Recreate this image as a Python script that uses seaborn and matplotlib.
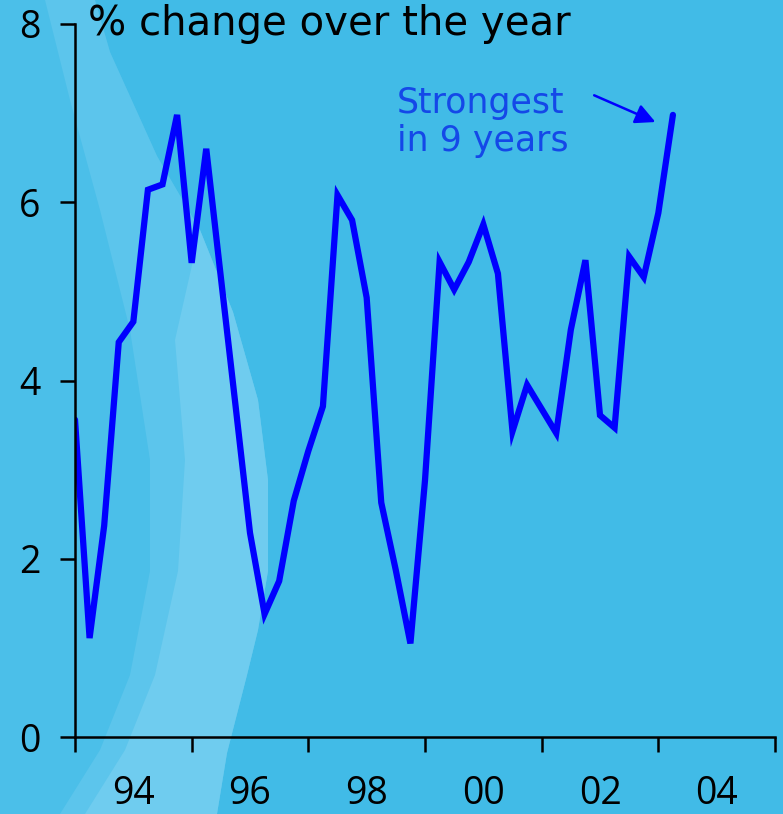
import numpy as np
import pandas as pd
import seaborn as sns
import matplotlib.pyplot as plt
from matplotlib.patches import Polygon

# quarterly % change over the year, 1993 Q1 to 2003 Q2
start_year = 1993
growth = [3.56, 1.11, 2.37, 4.43, 4.66, 6.14, 6.20, 6.98,
          5.32, 6.60, 5.16, 3.73, 2.29, 1.38, 1.75, 2.65,
          3.21, 3.71, 6.08, 5.80, 4.93, 2.63, 1.87, 1.05,
          2.88, 5.33, 5.02, 5.33, 5.75, 5.20, 3.43, 3.95,
          3.68, 3.41, 4.57, 5.35, 3.61, 3.47, 5.39, 5.16,
          5.88, 6.98]
year_labels = ['94', '96', '98', '00', '02', '04']
label_years = [1994, 1996, 1998, 2000, 2002, 2004]
tick_years = [1993, 1995, 1997, 1999, 2001, 2003, 2005]
y_ticks = [0, 2, 4, 6, 8]

df = pd.DataFrame({'date': start_year + np.arange(len(growth)) * 0.25,
                   'growth': growth})

bg = '#41bbe7'
sns.set_theme(style='ticks', rc={'axes.facecolor': 'none', 'figure.facecolor': bg})
plt.rcParams['font.family'] = ['Open Sans', 'DejaVu Sans']

W, H = 783, 814
fig = plt.figure(figsize=(W / 100, H / 100), dpi=100)

# lighter swoosh in the background (pixel coords, y down)
def px(pts):
    return [(x / W, 1 - y / H) for x, y in pts]

edge = [(95, 0), (110, 52), (157, 156), (200, 230), (233, 312), (258, 400),
        (268, 480), (268, 571), (258, 630), (247, 675), (227, 753), (217, 814)]
outer = px([(0, 0)] + edge + [(0, 814)])
band = px(edge + [(60, 814), (100, 750), (130, 675), (150, 571), (150, 460),
                  (130, 330), (100, 210), (70, 100), (45, 0)])
bright = px(edge[3:] + [(85, 814), (125, 750), (155, 675), (178, 571), (185, 460),
                        (175, 340)])
fig.patches.append(Polygon(outer, closed=True, transform=fig.transFigure,
                           facecolor='#4bbfe9', edgecolor='none', zorder=-3))
fig.patches.append(Polygon(band, closed=True, transform=fig.transFigure,
                           facecolor='#5cc5ec', edgecolor='none', zorder=-2))
fig.patches.append(Polygon(bright, closed=True, transform=fig.transFigure,
                           facecolor='#6fccef', edgecolor='none', zorder=-1))

ax = fig.add_axes([75 / W, 77 / H, 700 / W, 713 / H])
ax.patch.set_alpha(0)

sns.lineplot(data=df, x='date', y='growth', ax=ax, color='#0000ff',
             linewidth=4.5, solid_joinstyle='miter')

ax.set_xlim(1993, 2005)
ax.set_ylim(0, 8)
ax.set_xlabel('')
ax.set_ylabel('')
sns.despine(ax=ax)
for s in ['left', 'bottom']:
    ax.spines[s].set_color('black')
    ax.spines[s].set_linewidth(1.8)

ax.set_yticks(y_ticks)
ax.set_yticklabels([str(v) for v in y_ticks])
ax.tick_params(axis='y', length=11, width=1.8, pad=14, labelsize=27, colors='black')

ax.set_xticks(tick_years)
ax.set_xticklabels([])
ax.set_xticks(label_years, minor=True)
ax.set_xticklabels(year_labels, minor=True)
ax.tick_params(axis='x', which='major', length=11, width=1.8, colors='black')
ax.tick_params(axis='x', which='minor', length=0, pad=27, labelsize=27, colors='black')

fig.text(88 / W, 1 - 24 / H, '% change over the year', fontsize=29,
         family='DejaVu Sans', color='black', va='center', ha='left')

ax.text(1998.52, 6.9, 'Strongest\nin 9 years', fontsize=25, family='DejaVu Sans',
        color='#1448e8', ha='left', va='center', linespacing=1.12)
ax.annotate('', xy=(2002.95, 6.9), xytext=(2001.9, 7.2),
            arrowprops=dict(arrowstyle='-|>', color='#0000ff', lw=1.8,
                            mutation_scale=30, shrinkA=0, shrinkB=0))

fig.savefig('out.png', dpi=100, facecolor=bg)
